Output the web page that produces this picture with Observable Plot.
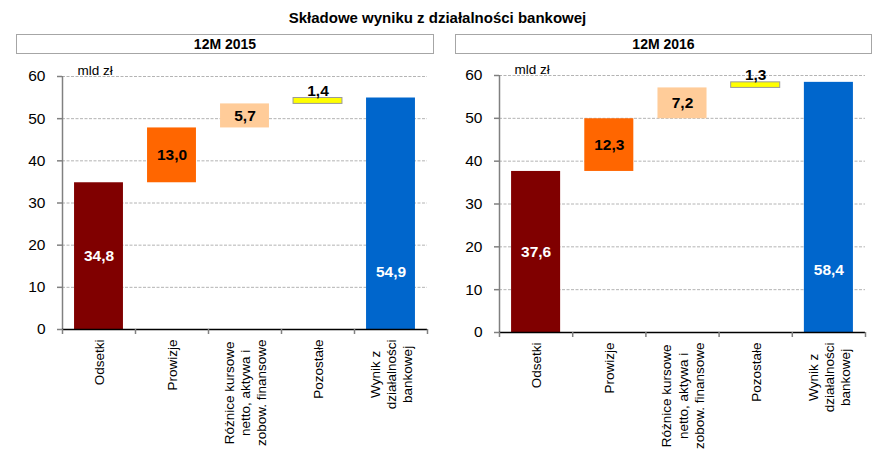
<!DOCTYPE html>
<html>
<head>
<meta charset="utf-8">
<script src="https://cdn.jsdelivr.net/npm/d3@7"></script>
<script src="https://cdn.jsdelivr.net/npm/@observablehq/plot@0.6"></script>
<style>
  html, body { margin: 0; padding: 0; background: #fff; }
  #root { position: relative; width: 875px; height: 451px; font-family: "Liberation Sans", Arial, sans-serif; overflow: hidden; }
  .title { position: absolute; left: 0; width: 875px; top: 9px; text-align: center; font-weight: bold; font-size: 15px; }
  .hdr { position: absolute; top: 34px; height: 18px; border: 1.5px solid #a6a6a6; background: #fff; text-align: center; font-weight: bold; font-size: 14px; line-height: 19px; box-sizing: content-box; }
  .chart { position: absolute; top: 60px; }
</style>
</head>
<body>
<div id="root"></div>
<script>
const chartTitle = "Składowe wyniku z działalności bankowej";
const panelTitles = ["12M 2015", "12M 2016"];
const unitLabel = "mld zł";
const categories = ["Odsetki", "Prowizje", "Różnice kursowe\nnetto, aktywa i\nzobow. finansowe", "Pozostałe", "Wynik z\ndziałalności\nbankowej"];
const values2015 = [34.8, 13.0, 5.7, 1.4, 54.9];
const values2016 = [37.6, 12.3, 7.2, 1.3, 58.4];
const yTicks = [0, 10, 20, 30, 40, 50, 60];
const colors = ["#800000", "#FF6600", "#FFCC99", "#FFFF00", "#0066CC"];
const labelColors = ["#ffffff", "#000000", "#000000", "#000000", "#ffffff"];

const FONT = "'Liberation Sans', Arial, sans-serif";
const CAT_FS = 13.5;
const fmt = v => d3.format(".1f")(v).replace(".", ",");

const canvas = document.createElement("canvas");
const ctx = canvas.getContext("2d");
ctx.font = CAT_FS + "px " + FONT;
const blockWidth = s => d3.max(s.split("\n"), l => ctx.measureText(l).width);

function buildRows(values) {
  let base = 0;
  return values.map((v, i) => {
    const total = i === values.length - 1;
    const y1 = total ? 0 : base;
    const y2 = total ? v : base + v;
    if (!total) base += v;
    return {i, cat: categories[i], v, y1, y2, color: colors[i], lc: labelColors[i], total};
  });
}

function panel(values, m) {
  const rows = buildRows(values);
  const pad = 0.165;
  const catMarks = rows.map(r => Plot.text([r], {
    x: d => d.i + 0.5, y: 0, text: d => d.cat, rotate: -90,
    textAnchor: "middle", lineAnchor: "middle", fontSize: CAT_FS, lineHeight: 1.2,
    fill: "#000", dy: 10 + blockWidth(r.cat) / 2
  }));
  return Plot.plot({
    width: m.width, height: 391,
    marginTop: m.top, marginBottom: m.bottom, marginLeft: 62, marginRight: 10,
    style: {fontFamily: FONT, background: "transparent", overflow: "visible"},
    x: {domain: [0, 5], axis: null},
    y: {domain: [0, 60], axis: null},
    marks: [
      Plot.ruleY(yTicks.filter(t => t > 0), {stroke: "#b4b4b4", strokeWidth: 1, strokeDasharray: "3,1.5"}),
      Plot.rect(rows, {
        x1: d => d.i + pad, x2: d => d.i + 1 - pad, y1: "y1", y2: "y2",
        fill: "color", stroke: d => d.i === 3 ? "#9a9a9a" : "none", strokeWidth: 1
      }),
      Plot.ruleX([0], {y1: 0, y2: 60, stroke: "#808080", strokeWidth: 1.5}),
      Plot.axisY({ticks: yTicks, tickSize: 5, tickPadding: 12, fontSize: 15.5, stroke: "#808080", strokeWidth: 1.5, label: null, fill: "#000"}),
      Plot.ruleY([0], {stroke: "#000", strokeWidth: 1.5}),
      Plot.axisX({ticks: [0, 1, 2, 3, 4, 5], tickSize: 5, tickFormat: () => "", stroke: "#808080", strokeWidth: 1.5, label: null}),
      ...catMarks,
      Plot.text(rows.filter(d => d.i < 3), {
        x: d => d.i + 0.5, y: d => (d.y1 + d.y2) / 2, text: d => fmt(d.v),
        fill: "lc", fontSize: 15.5, fontWeight: "bold"
      }),
      Plot.text(rows.filter(d => d.i === 3), {
        x: d => d.i + 0.5, y: "y2", text: d => fmt(d.v),
        fill: "lc", fontSize: 15.5, fontWeight: "bold", dy: -7
      }),
      Plot.text(rows.filter(d => d.total), {
        x: d => d.i + 0.5, y: d => d.v * 0.25, text: d => fmt(d.v),
        fill: "lc", fontSize: 15.5, fontWeight: "bold"
      }),
      Plot.text([unitLabel], {x: 0, y: 60, text: d => d, textAnchor: "start", dx: 15, dy: -6, fontSize: 13.5, fill: "#000"})
    ]
  });
}

const root = document.getElementById("root");
const t = document.createElement("div");
t.className = "title"; t.textContent = chartTitle; root.appendChild(t);

const hdrPos = [{left: 16, width: 416}, {left: 455, width: 415}];
panelTitles.forEach((p, k) => {
  const h = document.createElement("div");
  h.className = "hdr"; h.textContent = p;
  h.style.left = hdrPos[k].left + "px"; h.style.width = hdrPos[k].width + "px";
  root.appendChild(h);
});

const c1 = panel(values2015, {width: 437, top: 16, bottom: 122});
c1.classList.add("chart"); c1.style.left = "0px"; root.appendChild(c1);
const c2 = panel(values2016, {width: 438, top: 15, bottom: 119});
c2.classList.add("chart"); c2.style.left = "437px"; root.appendChild(c2);
</script>
</body>
</html>
